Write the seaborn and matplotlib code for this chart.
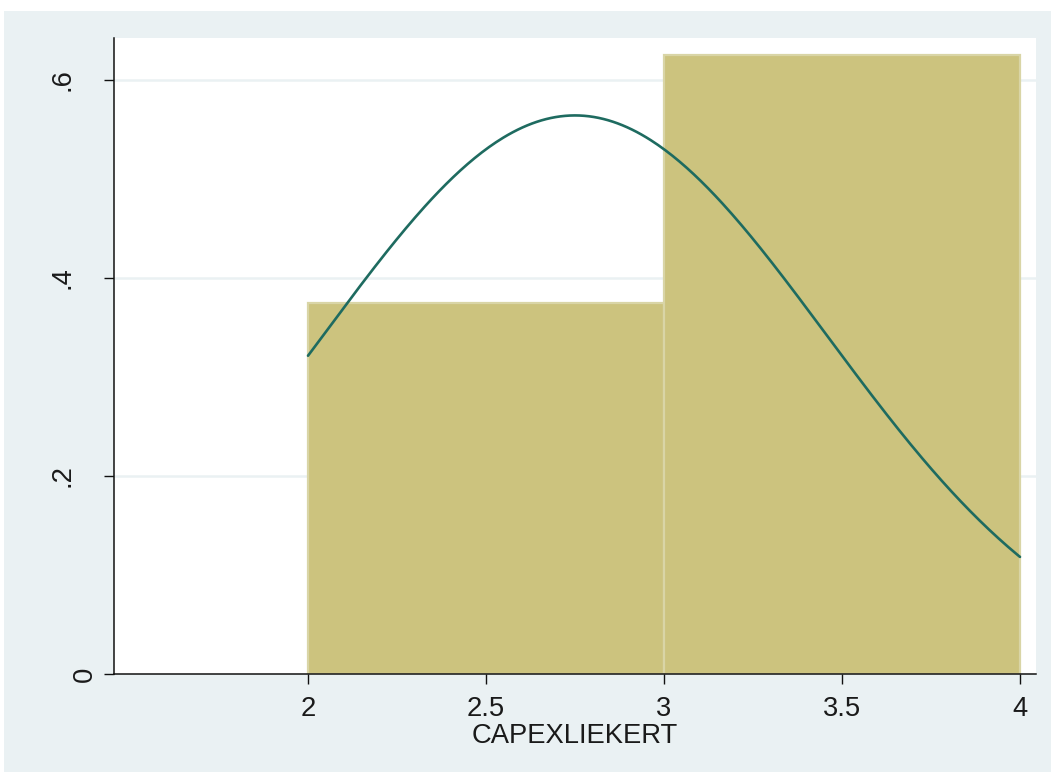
import numpy as np
import pandas as pd
import matplotlib
matplotlib.use("Agg")
import matplotlib.pyplot as plt
import matplotlib.transforms as mtransforms
from matplotlib.patches import Rectangle
import seaborn as sns

# Survey responses: Likert level and how many respondents chose it
levels = [2, 3, 4]
counts = [3, 4, 1]
bin_edges = [2, 3, 4]
x_ticks = [2, 2.5, 3, 3.5, 4]
x_tick_labels = ["2", "2.5", "3", "3.5", "4"]
y_ticks = [0, 0.2, 0.4, 0.6]
y_tick_labels = ["0", ".2", ".4", ".6"]

df = pd.DataFrame({"CAPEXLIEKERT": np.repeat(levels, counts)})

sns.set_style("white")
plt.rcParams["font.family"] = ["Liberation Sans", "DejaVu Sans"]

bg = "#EAF1F3"
fig = plt.figure(figsize=(10.51, 7.72), dpi=100, facecolor=bg)
# thin white border along the top and left edges
fig.add_artist(Rectangle((0, (772 - 11) / 772), 1, 11 / 772,
                         transform=fig.transFigure, facecolor="white",
                         edgecolor="none", zorder=-10))
fig.add_artist(Rectangle((0, 0), 4 / 1051, 1,
                         transform=fig.transFigure, facecolor="white",
                         edgecolor="none", zorder=-10))
ax = fig.add_axes([114 / 1051, (772 - 674) / 772, 922 / 1051, 636 / 772])
ax.set_facecolor("white")

sns.histplot(data=df, x="CAPEXLIEKERT", bins=bin_edges, stat="density",
             color="#CCC37E", alpha=1, edgecolor="#D9D5A6", linewidth=1.6,
             ax=ax, zorder=2)

# Normal density with the sample mean and standard deviation
mu = df["CAPEXLIEKERT"].mean()
sd = df["CAPEXLIEKERT"].std()
xs = np.linspace(min(bin_edges), max(bin_edges), 300)
pdf = np.exp(-0.5 * ((xs - mu) / sd) ** 2) / (sd * np.sqrt(2 * np.pi))
sns.lineplot(x=xs, y=pdf, color="#1E6B60", linewidth=1.9, ax=ax, zorder=3)

ax.set_xlim(1.455, 4.045)
ax.set_ylim(0, 0.6424)
ax.set_xticks(x_ticks)
ax.set_xticklabels(x_tick_labels)
ax.set_yticks(y_ticks)
ax.set_yticklabels(y_tick_labels, rotation=90, va="center")

for y in y_ticks[1:]:
    ax.axhline(y, color="#EAF1F3", linewidth=1.8, zorder=1)

for side in ["top", "right"]:
    ax.spines[side].set_visible(False)
for side in ["left", "bottom"]:
    ax.spines[side].set_color("#111111")
    ax.spines[side].set_linewidth(1.1)

ax.tick_params(axis="both", direction="out", length=7.5, width=1.0,
               color="#111111", labelsize=19.7, labelcolor="#1a1a1a", pad=8)
ax.tick_params(axis="x", bottom=True)
ax.tick_params(axis="y", left=True)
ax.set_xlabel("CAPEXLIEKERT", fontsize=19.7, color="#1a1a1a", labelpad=1)
ax.set_ylabel("")

# the zero label sits close to the axis, the decimal labels further out
for lab in ax.get_yticklabels():
    dx = 5 if lab.get_text() == "0" else -17
    lab.set_transform(lab.get_transform() + mtransforms.ScaledTranslation(
        dx / 100, 0, fig.dpi_scale_trans))

fig.savefig("out.png", dpi=100, facecolor=fig.get_facecolor())
